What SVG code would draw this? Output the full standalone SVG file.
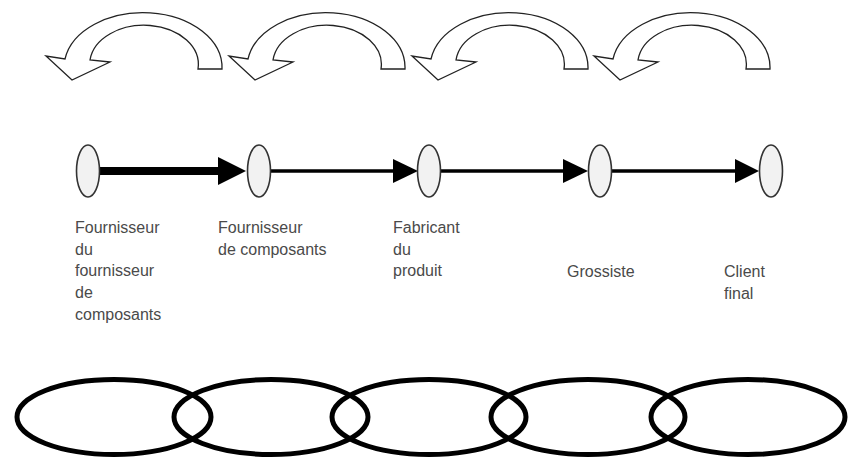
<svg xmlns="http://www.w3.org/2000/svg" xmlns:xlink="http://www.w3.org/1999/xlink" width="850" height="459" viewBox="0 0 850 459">
<style>
.curl{fill:#fff;stroke:#222;stroke-width:1.3;stroke-linejoin:miter}
.node{fill:#f2f2f2;stroke:#333;stroke-width:1.6}
.lbl{font-family:"Liberation Sans",Arial,sans-serif;font-size:16px;fill:#4a4a4a}
.link{fill:none;stroke:#000;stroke-width:5}
.line{stroke:#000}
</style>
<defs>
<path id="curlShape" class="curl" d="M222,69 A79,55 0 0 0 65,59 L46,56 L72,80 L110,62 L90,60 A54,39 0 0 1 198,69 Z"/>
</defs>
<rect width="850" height="459" fill="#fff"/>
<g id="return-arrows">
<use xlink:href="#curlShape"/>
<use xlink:href="#curlShape" transform="translate(183,0)"/>
<use xlink:href="#curlShape" transform="translate(366,0)"/>
<use xlink:href="#curlShape" transform="translate(548,0)"/>
</g>
<g id="connectors">
<line class="line" x1="99" y1="171" x2="220" y2="171" stroke-width="8"/>
<polygon points="218,157 246,171 218,185"/>
<line class="line" x1="270" y1="171" x2="395" y2="171" stroke-width="3.5"/>
<polygon points="393,159 418,171 393,183"/>
<line class="line" x1="441" y1="171" x2="565" y2="171" stroke-width="3.5"/>
<polygon points="563,159 588,171 563,183"/>
<line class="line" x1="612" y1="171" x2="737" y2="171" stroke-width="3.5"/>
<polygon points="735,159 759,171 735,183"/>
</g>
<g id="node1">
<ellipse class="node" cx="88" cy="171" rx="11.5" ry="26"/>
<text class="lbl" x="75" y="233">Fournisseur</text>
<text class="lbl" x="75" y="254.7">du</text>
<text class="lbl" x="75" y="276.3">fournisseur</text>
<text class="lbl" x="75" y="298">de</text>
<text class="lbl" x="75" y="319.7">composants</text>
</g>
<g id="node2">
<ellipse class="node" cx="259" cy="171" rx="11.5" ry="26"/>
<text class="lbl" x="218" y="233">Fournisseur</text>
<text class="lbl" x="218" y="254.7">de composants</text>
</g>
<g id="node3">
<ellipse class="node" cx="429" cy="171" rx="11.5" ry="26"/>
<text class="lbl" x="393" y="233">Fabricant</text>
<text class="lbl" x="393" y="254.7">du</text>
<text class="lbl" x="393" y="276.3">produit</text>
</g>
<g id="node4">
<ellipse class="node" cx="600" cy="171" rx="11.5" ry="26"/>
<text class="lbl" x="567" y="277">Grossiste</text>
</g>
<g id="node5">
<ellipse class="node" cx="771" cy="171" rx="11.5" ry="26"/>
<text class="lbl" x="724" y="277">Client</text>
<text class="lbl" x="724" y="298.5">final</text>
</g>
<g id="chain">
<ellipse class="link" cx="114" cy="417" rx="97" ry="37.5"/>
<ellipse class="link" cx="271" cy="417" rx="97" ry="37.5"/>
<ellipse class="link" cx="429" cy="417" rx="97" ry="37.5"/>
<ellipse class="link" cx="588" cy="417" rx="97" ry="37.5"/>
<ellipse class="link" cx="748" cy="417" rx="97" ry="37.5"/>
</g>
</svg>
